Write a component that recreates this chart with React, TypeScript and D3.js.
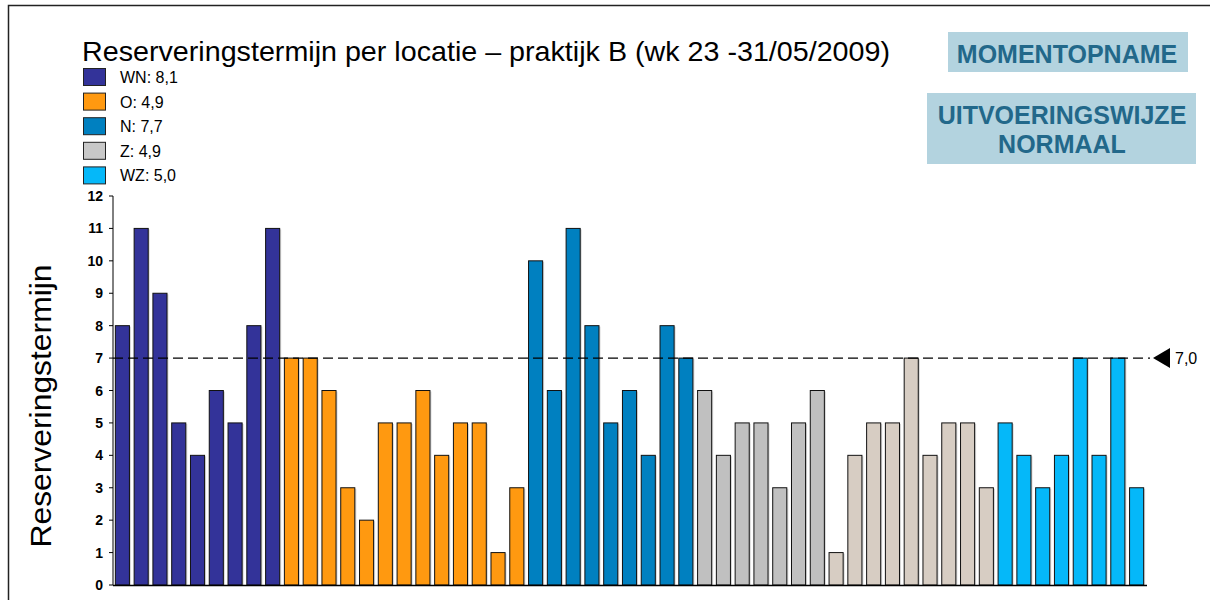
import React from "react";
import * as d3 from "d3";

const groupNames = ["WN", "O", "N", "Z", "Z2", "WZ"];
const groupColors = ["#333399", "#FF9910", "#0080C0", "#C0C0C0", "#D7CDC3", "#05B8F9"];
const wnValues = [8, 11, 9, 5, 4, 6, 5, 8, 11];
const oValues = [7, 7, 6, 3, 2, 5, 5, 6, 4, 5, 5, 1, 3];
const nValues = [10, 6, 11, 8, 5, 6, 4, 8, 7];
const zValues = [6, 4, 5, 5, 3, 5, 6];
const z2Values = [1, 4, 5, 5, 7, 4, 5, 5, 3];
const wzValues = [5, 4, 3, 4, 7, 4, 7, 3];
const legendLabels = ["WN: 8,1", "O: 4,9", "N: 7,7", "Z: 4,9", "WZ: 5,0"];
const legendColors = ["#333399", "#FF9910", "#0080C0", "#C8C8C8", "#05B8F9"];
const yTicks = [0, 1, 2, 3, 4, 5, 6, 7, 8, 9, 10, 11, 12];
const normValue = 7;
const normLabel = "7,0";

const groupValues = [wnValues, oValues, nValues, zValues, z2Values, wzValues];

type Bar = { id: string; value: number; color: string };
const bars: Bar[] = [];
groupValues.forEach((vals, gi) => {
  vals.forEach((v, i) => {
    bars.push({ id: `${groupNames[gi]}-${i}`, value: v, color: groupColors[gi] });
  });
});

const FONT = "'Liberation Sans', Arial, Helvetica, sans-serif";

export default function App() {
  const left = 113;
  const right = 1146;
  const top = 196;
  const bottom = 585;

  const x = d3
    .scaleBand<string>()
    .domain(bars.map((b) => b.id))
    .range([left, right])
    .paddingInner(0.25)
    .paddingOuter(0.125);
  const y = d3.scaleLinear().domain([0, 12]).range([bottom, top]);
  const bw = x.bandwidth();
  const yNorm = y(normValue);

  return (
    <svg
      width={1210}
      height={600}
      style={{ position: "absolute", left: 0, top: 0, background: "#fff" }}
      fontFamily={FONT}
    >
      <rect x={0} y={0} width={1210} height={600} fill="#fff" />
      <rect x={8.5} y={5.5} width={1220} height={610} fill="none" stroke="#222" strokeWidth={1.5} />

      {/* Title */}
      <text x={82} y={61} fontSize={28.5} textLength={808} lengthAdjust="spacingAndGlyphs" fill="#000">
        Reserveringstermijn per locatie – praktijk B (wk 23 -31/05/2009)
      </text>

      {/* Legend */}
      {legendLabels.map((lab, i) => (
        <g key={lab} transform={`translate(0, ${68 + i * 24.6})`}>
          <rect x={83.5} y={0.5} width={22} height={17} fill={legendColors[i]} stroke="#222" strokeWidth={1} />
          <text x={120} y={15} fontSize={16} fill="#000">
            {lab}
          </text>
        </g>
      ))}

      {/* Boxes */}
      <rect x={948} y={32} width={240} height={40} fill="#B3D3DF" />
      <text x={1067} y={63} textAnchor="middle" fontSize={25} fontWeight="bold" fill="#22688A">
        MOMENTOPNAME
      </text>
      <rect x={927} y={93} width={269} height={71} fill="#B3D3DF" />
      <text x={1062} y={124} textAnchor="middle" fontSize={25} fontWeight="bold" fill="#22688A">
        UITVOERINGSWIJZE
      </text>
      <text x={1062} y={153} textAnchor="middle" fontSize={25} fontWeight="bold" fill="#22688A">
        NORMAAL
      </text>

      {/* Y axis label */}
      <text
        transform={`translate(51, 406) rotate(-90)`}
        textAnchor="middle"
        fontSize={30}
        textLength={283}
        lengthAdjust="spacingAndGlyphs"
        fill="#000"
      >
        Reserveringstermijn
      </text>

      {/* Bars */}
      {bars.map((b) => (
        <g key={b.id}>
          <rect
            x={(x(b.id) as number) + 1.5}
            y={y(b.value) + 1}
            width={bw}
            height={bottom - y(b.value)}
            fill="#bbb"
            opacity={0.6}
          />
          <rect
            x={x(b.id) as number}
            y={y(b.value)}
            width={bw}
            height={bottom - y(b.value)}
            fill={b.color}
            stroke="#111"
            strokeWidth={1}
          />
        </g>
      ))}

      {/* Norm line */}
      <line x1={left} x2={1150} y1={yNorm} y2={yNorm} stroke="#000" strokeWidth={1.3} strokeDasharray="10,5" />
      <path d={`M1153,${yNorm} L1170,${yNorm - 10} L1170,${yNorm + 10} Z`} fill="#000" />
      <text x={1175} y={yNorm + 6} fontSize={16} fill="#000">
        {normLabel}
      </text>

      {/* Y axis */}
      <line x1={left} x2={left} y1={top} y2={bottom} stroke="#000" strokeWidth={1} />
      {yTicks.map((t) => (
        <g key={t}>
          <line x1={left - 4} x2={left} y1={y(t)} y2={y(t)} stroke="#000" strokeWidth={1} />
          <text x={103} y={y(t) + 5} textAnchor="end" fontSize={14} fontWeight="bold" fill="#000">
            {t}
          </text>
        </g>
      ))}
      {/* X axis */}
      <line x1={left} x2={right + 1} y1={bottom + 0.5} y2={bottom + 0.5} stroke="#000" strokeWidth={1.5} />
    </svg>
  );
}
